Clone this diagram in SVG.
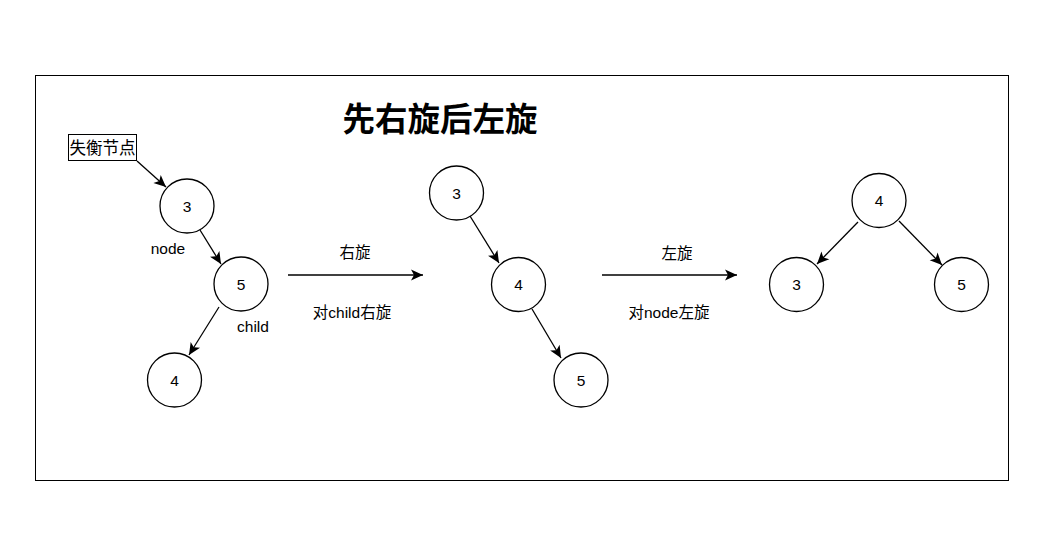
<svg xmlns="http://www.w3.org/2000/svg" width="1062" height="556" viewBox="0 0 1062 556">
<style>
.n circle{fill:#fff;stroke:#000;stroke-width:1.3}
.t{font-family:"Liberation Sans","Noto Sans CJK SC",sans-serif;font-size:15.5px;fill:#000;text-anchor:middle;dominant-baseline:central}
.c line{stroke:#000;stroke-width:1.3;marker-end:url(#ah)}
</style>
<defs>
<marker id="ah" markerUnits="userSpaceOnUse" markerWidth="14" markerHeight="14" viewBox="0 0 14 14" refX="13" refY="7" orient="auto">
<path d="M1,1.5 L13,7 L1,12.5 L4,7 z" fill="#000"/>
</marker>
</defs>
<rect x="0" y="0" width="1062" height="556" fill="#fff"/>
<rect id="frame" x="35.5" y="75.5" width="973" height="405" fill="none" stroke="#000" stroke-width="1"/>
<text id="title" x="440" y="120" class="t" style="font-size:32.5px;font-weight:bold">先右旋后左旋</text>
<g id="unbalanced">
<rect x="68.5" y="134.5" width="68" height="26" fill="#fff" stroke="#000" stroke-width="1"/>
<text x="102.5" y="147.5" class="t" style="font-size:16.5px">失衡节点</text>
</g>
<g id="a3" class="n"><circle cx="187" cy="206" r="27"/><text x="187" y="206" class="t">3</text></g>
<g id="a5" class="n"><circle cx="241" cy="284" r="27"/><text x="241" y="284" class="t">5</text></g>
<g id="a4" class="n"><circle cx="174.5" cy="380" r="27"/><text x="174.5" y="380" class="t">4</text></g>
<text id="lbl-node" x="168" y="248" class="t">node</text>
<text id="lbl-child" x="253" y="326" class="t">child</text>
<g id="b3" class="n"><circle cx="456.5" cy="193" r="27"/><text x="456.5" y="193" class="t">3</text></g>
<g id="b4" class="n"><circle cx="518.5" cy="284.5" r="27"/><text x="518.5" y="284.5" class="t">4</text></g>
<g id="b5" class="n"><circle cx="581" cy="380" r="27"/><text x="581" y="380" class="t">5</text></g>
<g id="c4" class="n"><circle cx="879" cy="200.5" r="27"/><text x="879" y="200.5" class="t">4</text></g>
<g id="c3" class="n"><circle cx="796.5" cy="284.5" r="27"/><text x="796.5" y="284.5" class="t">3</text></g>
<g id="c5" class="n"><circle cx="961.5" cy="284.5" r="27"/><text x="961.5" y="284.5" class="t">5</text></g>
<text id="lbl-r1" x="355" y="252" class="t">右旋</text>
<text id="lbl-r2" x="352" y="312" class="t">对child右旋</text>
<text id="lbl-l1" x="677" y="253" class="t">左旋</text>
<text id="lbl-l2" x="669" y="312" class="t">对node左旋</text>
<g id="connectors" class="c">
<line x1="137" y1="161" x2="166" y2="187"/>
<line x1="200" y1="230" x2="221" y2="264"/>
<line x1="219" y1="307" x2="189" y2="355"/>
<line x1="288" y1="275" x2="423" y2="275"/>
<line x1="470" y1="216" x2="499" y2="263"/>
<line x1="532" y1="309" x2="561" y2="358"/>
<line x1="602" y1="275" x2="737" y2="275"/>
<line x1="858" y1="222" x2="817" y2="264"/>
<line x1="899" y1="221" x2="942" y2="265"/>
</g>
</svg>
